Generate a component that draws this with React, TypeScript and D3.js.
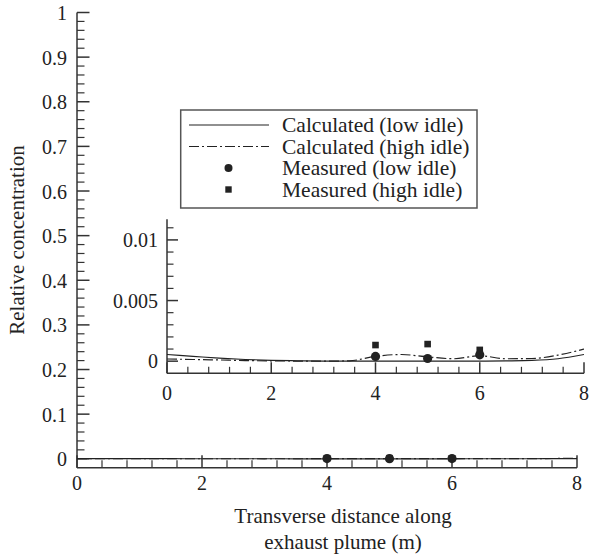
import React from 'react';
import * as d3 from 'd3';

// transverse distance (m) for the calculated curves
const calcX = [0, 0.5, 1, 1.5, 2, 2.5, 3, 3.5, 4, 4.5, 5, 5.5, 6, 6.5, 7, 7.5, 8];
const calcLow = [0.00055, 0.0004, 0.00025, 0.00014, 0.00007, 0.00003, 0.00001, 0, 0, 0, 0, 0, 0, 0.00002, 0.00006, 0.0002, 0.00055];
const calcHigh = [0.00018, 0.00014, 0.0001, 0.00005, 0.00002, 0.00001, 0, 0.00003, 0.0004, 0.00055, 0.00035, 0.0002, 0.00045, 0.0002, 0.00022, 0.0005, 0.001];

const measX = [4, 5, 6];
const measLow = [0.00039, 0.00022, 0.00052];
const measHigh = [0.00133, 0.00141, 0.00093];

const mainYTicks = [0, 0.1, 0.2, 0.3, 0.4, 0.5, 0.6, 0.7, 0.8, 0.9, 1];
const xTicks = [0, 2, 4, 6, 8];
const insetYTicks = [0, 0.005, 0.01];
const insetYLabels = ['0', '0.005', '0.01'];

const legendItems = [
  'Calculated (low idle)',
  'Calculated (high idle)',
  'Measured (low idle)',
  'Measured (high idle)',
];

const FONT = '"Liberation Serif", "Times New Roman", serif';
const INK = '#222';
const AXIS = '#333';
const DASHDOT = '10,3,2,3';

type Pt = [number, number];

const App: React.FC = () => {
  // main plot scales
  const x = d3.scaleLinear().domain([0, 8]).range([77, 577]);
  const y = d3.scaleLinear().domain([-0.02, 1]).range([467.7, 12.5]);
  // inset scales
  const ix = d3.scaleLinear().domain([0, 8]).range([167, 584]);
  const iy = d3.scaleLinear().domain([-0.001, 0.0117]).range([373.3, 219.3]);

  const lowPts: Pt[] = calcX.map((v, i) => [v, calcLow[i]]);
  const highPts: Pt[] = calcX.map((v, i) => [v, calcHigh[i]]);

  const mainLine = d3.line<Pt>().x(d => x(d[0])).y(d => y(d[1])).curve(d3.curveMonotoneX);
  const insetLine = d3.line<Pt>().x(d => ix(d[0])).y(d => iy(d[1])).curve(d3.curveMonotoneX);

  const xMinor = d3.range(0, 8.001, 0.4).filter(v => Math.abs(v / 2 - Math.round(v / 2)) > 1e-6);
  const yMinor = d3.range(0, 1.001, 0.02).filter(v => Math.abs(v * 10 - Math.round(v * 10)) > 1e-6);
  const iyMinor = d3.range(0, 0.01101, 0.001).filter(v => Math.abs(v / 0.005 - Math.round(v / 0.005)) > 1e-6);

  const legX = 180.7, legY = 110, legW = 296.3, legH = 98;
  const rowY = [125, 146.5, 168, 189.5];

  return (
    <svg width={590} height={554} style={{ position: 'absolute', left: 0, top: 0, background: '#fff' }}
      fontFamily={FONT}>
      <defs>
        <clipPath id="insetClip">
          <rect x={ix(0)} y={iy(0.0117)} width={ix(8) - ix(0)} height={iy(-0.001) - iy(0.0117)} />
        </clipPath>
      </defs>

      {/* main axes */}
      <g stroke={AXIS} strokeWidth={1.5} fill="none">
        <line x1={x(0)} x2={x(0)} y1={y(1)} y2={y(-0.02)} />
        <line x1={x(0)} x2={x(8)} y1={y(-0.02)} y2={y(-0.02)} />
        {mainYTicks.map(t => <line key={'my' + t} x1={x(0)} x2={x(0) + 12.5} y1={y(t)} y2={y(t)} />)}
        {yMinor.map(t => <line key={'mym' + t} x1={x(0)} x2={x(0) + 7.5} y1={y(t)} y2={y(t)} strokeWidth={1.2} />)}
        {xTicks.map(t => <line key={'mx' + t} x1={x(t)} x2={x(t)} y1={y(-0.02)} y2={y(-0.02) - 12.5} />)}
        {xMinor.map(t => <line key={'mxm' + t} x1={x(t)} x2={x(t)} y1={y(-0.02)} y2={y(-0.02) - 7.5} strokeWidth={1.2} />)}
      </g>
      <g fontSize={20} fill={INK}>
        {mainYTicks.map(t => (
          <text key={'myl' + t} x={x(0) - 10} y={y(t)} dy="0.38em" textAnchor="end">{d3.format('~g')(t)}</text>
        ))}
        {xTicks.map(t => (
          <text key={'mxl' + t} x={x(t)} y={y(-0.02) + 22} textAnchor="middle">{t}</text>
        ))}
      </g>

      {/* main data */}
      <path d={mainLine(lowPts) || ''} fill="none" stroke={INK} strokeWidth={1.2} />
      <path d={mainLine(highPts) || ''} fill="none" stroke={INK} strokeWidth={1.2} strokeDasharray={DASHDOT} />
      {measX.map((v, i) => (
        <rect key={'mhs' + v} x={x(v) - 3.3} y={y(measHigh[i]) - 3.3} width={6.6} height={6.6} fill={INK} />
      ))}
      {measX.map((v, i) => (
        <circle key={'mlc' + v} cx={x(v)} cy={y(measLow[i])} r={4.6} fill={INK} />
      ))}

      {/* inset axes */}
      <g stroke={AXIS} strokeWidth={1.5} fill="none">
        <line x1={ix(0)} x2={ix(0)} y1={iy(0.0117)} y2={iy(-0.001)} />
        <line x1={ix(0)} x2={ix(8)} y1={iy(-0.001)} y2={iy(-0.001)} />
        {insetYTicks.map(t => <line key={'iy' + t} x1={ix(0)} x2={ix(0) + 11} y1={iy(t)} y2={iy(t)} />)}
        {iyMinor.map(t => <line key={'iym' + t} x1={ix(0)} x2={ix(0) + 6.5} y1={iy(t)} y2={iy(t)} strokeWidth={1.2} />)}
        {xTicks.map(t => <line key={'ix' + t} x1={ix(t)} x2={ix(t)} y1={iy(-0.001)} y2={iy(-0.001) - 11} />)}
        {xMinor.map(t => <line key={'ixm' + t} x1={ix(t)} x2={ix(t)} y1={iy(-0.001)} y2={iy(-0.001) - 6.5} strokeWidth={1.2} />)}
      </g>
      <g fontSize={20} fill={INK}>
        {insetYTicks.map((t, i) => (
          <text key={'iyl' + t} x={ix(0) - 9} y={iy(t)} dy="0.35em" textAnchor="end">{insetYLabels[i]}</text>
        ))}
        {xTicks.map(t => (
          <text key={'ixl' + t} x={ix(t)} y={iy(-0.001) + 27} textAnchor="middle">{t}</text>
        ))}
      </g>

      {/* inset data */}
      <g clipPath="url(#insetClip)">
        <path d={insetLine(lowPts) || ''} fill="none" stroke={INK} strokeWidth={1.2} />
        <path d={insetLine(highPts) || ''} fill="none" stroke={INK} strokeWidth={1.2} strokeDasharray={DASHDOT} />
      </g>
      {measX.map((v, i) => (
        <rect key={'ihs' + v} x={ix(v) - 3.3} y={iy(measHigh[i]) - 3.3} width={6.6} height={6.6} fill={INK} />
      ))}
      {measX.map((v, i) => (
        <circle key={'ilc' + v} cx={ix(v)} cy={iy(measLow[i])} r={4.6} fill={INK} />
      ))}

      {/* legend */}
      <rect x={legX} y={legY} width={legW} height={legH} fill="#fff" stroke="#555" strokeWidth={1.5} />
      <line x1={189} x2={269} y1={rowY[0]} y2={rowY[0]} stroke={INK} strokeWidth={1.2} />
      <line x1={189} x2={269} y1={rowY[1]} y2={rowY[1]} stroke={INK} strokeWidth={1.2} strokeDasharray={DASHDOT} />
      <circle cx={228.5} cy={rowY[2]} r={4} fill={INK} />
      <rect x={225.3} y={rowY[3] - 3.2} width={6.4} height={6.4} fill={INK} />
      <g fontSize={21.5} fill={INK}>
        {legendItems.map((s, i) => (
          <text key={s} x={282} y={rowY[i]} dy="0.33em">{s}</text>
        ))}
      </g>

      {/* axis titles */}
      <text x={343} y={523} textAnchor="middle" fontSize={21} fill={INK}>Transverse distance along</text>
      <text x={343} y={549} textAnchor="middle" fontSize={21} fill={INK}>exhaust plume (m)</text>
      <text transform="translate(24,240) rotate(-90)" textAnchor="middle" fontSize={21} fill={INK}>Relative concentration</text>
    </svg>
  );
};

export default App;
